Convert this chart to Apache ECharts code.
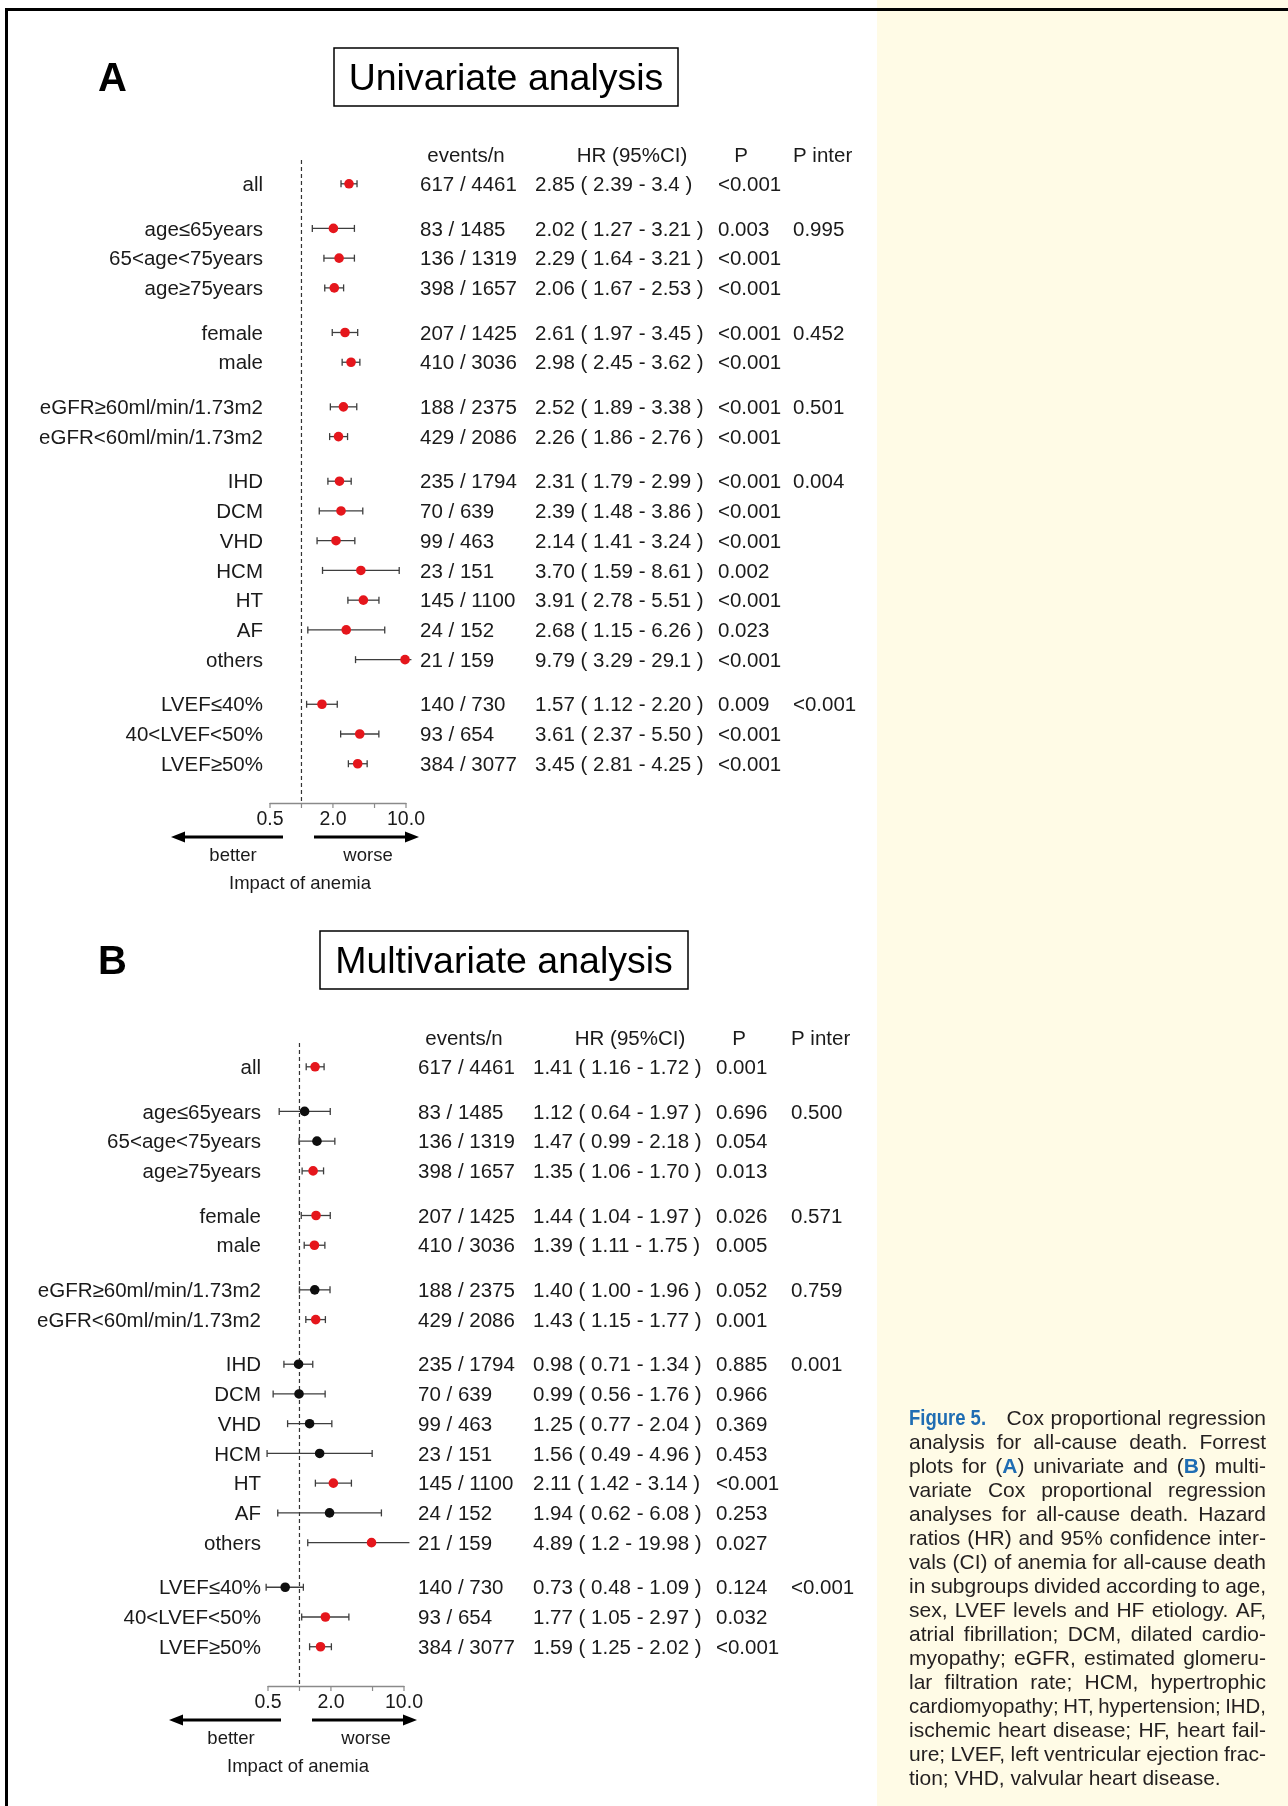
<!DOCTYPE html>
<html>
<head>
<meta charset="utf-8">
<title>Cox proportional regression analysis for all-cause death</title>
<script src="https://cdn.jsdelivr.net/npm/echarts@6/dist/echarts.min.js"></script>
<style>
  html, body { margin: 0; padding: 0; background: #ffffff; }
  #chart { width: 1288px; height: 1806px; }
</style>
</head>
<body>
<div id="chart"></div>
<script>
// ---- Subgroups (shared by both analyses) ----
const subgroups = [
  'all',
  'age≤65years', '65<age<75years', 'age≥75years',
  'female', 'male',
  'eGFR≥60ml/min/1.73m2', 'eGFR<60ml/min/1.73m2',
  'IHD', 'DCM', 'VHD', 'HCM', 'HT', 'AF', 'others',
  'LVEF≤40%', '40<LVEF<50%', 'LVEF≥50%'
];
const events = [617, 83, 136, 398, 207, 410, 188, 429, 235, 70, 99, 23, 145, 24, 21, 140, 93, 384];
const totals = [4461, 1485, 1319, 1657, 1425, 3036, 2375, 2086, 1794, 639, 463, 151, 1100, 152, 159, 730, 654, 3077];

// ---- Univariate hazard ratios (95% CI) ----
const uniHR = ['2.85', '2.02', '2.29', '2.06', '2.61', '2.98', '2.52', '2.26', '2.31', '2.39', '2.14', '3.70', '3.91', '2.68', '9.79', '1.57', '3.61', '3.45'];
const uniLo = ['2.39', '1.27', '1.64', '1.67', '1.97', '2.45', '1.89', '1.86', '1.79', '1.48', '1.41', '1.59', '2.78', '1.15', '3.29', '1.12', '2.37', '2.81'];
const uniHi = ['3.4', '3.21', '3.21', '2.53', '3.45', '3.62', '3.38', '2.76', '2.99', '3.86', '3.24', '8.61', '5.51', '6.26', '29.1', '2.20', '5.50', '4.25'];
const uniP = ['<0.001', '0.003', '<0.001', '<0.001', '<0.001', '<0.001', '<0.001', '<0.001', '<0.001', '<0.001', '<0.001', '0.002', '<0.001', '0.023', '<0.001', '0.009', '<0.001', '<0.001'];
const uniPInter = ['', '0.995', '', '', '0.452', '', '0.501', '', '0.004', '', '', '', '', '', '', '<0.001', '', ''];

// ---- Multivariate hazard ratios (95% CI) ----
const multiHR = ['1.41', '1.12', '1.47', '1.35', '1.44', '1.39', '1.40', '1.43', '0.98', '0.99', '1.25', '1.56', '2.11', '1.94', '4.89', '0.73', '1.77', '1.59'];
const multiLo = ['1.16', '0.64', '0.99', '1.06', '1.04', '1.11', '1.00', '1.15', '0.71', '0.56', '0.77', '0.49', '1.42', '0.62', '1.2', '0.48', '1.05', '1.25'];
const multiHi = ['1.72', '1.97', '2.18', '1.70', '1.97', '1.75', '1.96', '1.77', '1.34', '1.76', '2.04', '4.96', '3.14', '6.08', '19.98', '1.09', '2.97', '2.02'];
const multiP = ['0.001', '0.696', '0.054', '0.013', '0.026', '0.005', '0.052', '0.001', '0.885', '0.966', '0.369', '0.453', '<0.001', '0.253', '0.027', '0.124', '0.032', '<0.001'];
const multiPInter = ['', '0.500', '', '', '0.571', '', '0.759', '', '0.001', '', '', '', '', '', '', '<0.001', '', ''];

// ---- Hazard-ratio axis ----
const tickValues = [0.5, 1, 2, 5, 10];
const tickLabels = ['0.5', '', '2.0', '', '10.0'];

// ---- Column headers ----
const headers = ['events/n', 'HR (95%CI)', 'P', 'P inter'];

// ---- Figure legend ----
const captionLines = [
  '{fig|Figure 5.} Cox proportional regression',
  'analysis for all-cause death. Forrest',
  'plots for ({b|A}) univariate and ({b|B}) multi-',
  'variate Cox proportional regression',
  'analyses for all-cause death. Hazard',
  'ratios (HR) and 95% confidence inter-',
  'vals (CI) of anemia for all-cause death',
  'in subgroups divided according to age,',
  'sex, LVEF levels and HF etiology. AF,',
  'atrial fibrillation; DCM, dilated cardio-',
  'myopathy; eGFR, estimated glomeru-',
  'lar filtration rate; HCM, hypertrophic',
  'cardiomyopathy; HT, hypertension; IHD,',
  'ischemic heart disease; HF, heart fail-',
  'ure; LVEF, left ventricular ejection frac-',
  'tion; VHD, valvular heart disease.'
];

// ---------------------------------------------------------------
const FAMILY = "'Liberation Sans', Arial, Helvetica, sans-serif";
const TXT = '#1a1a1a';
const RED = '#e5161c';
const DARK = '#0e0e0e';
const WHISKER = '#3e3e3e';
const ROW_FONT = '20.5px ' + FAMILY;

// Vertical position of each row: a new subgroup block (where an interaction
// P is reported) starts half a row further down.
const rowPos = [];
subgroups.forEach((s, i) => {
  if (i === 0) rowPos.push(0);
  else rowPos.push(rowPos[i - 1] + (uniPInter[i] !== '' ? 1.5 : 1));
});
const lastPos = rowPos[rowPos.length - 1];
const Y_MIN = -0.8;
const Y_MAX = lastPos + 1.32;
// whiskers are cut at the edge of the plotting region
const CLIP_MIN = 0.444;
const CLIP_MAX = 11.27;

function isSignificant(p) {
  const s = p.trim();
  return s.charAt(0) === '<' || parseFloat(s) < 0.05;
}

const panels = [
  { letter: 'A', title: 'Univariate analysis', hr: uniHR, lo: uniLo, hi: uniHi, p: uniP, pi: uniPInter,
    dx: 0, dy: 0, box: { x: 334, y: 48, w: 344, h: 58 } },
  { letter: 'B', title: 'Multivariate analysis', hr: multiHR, lo: multiLo, hi: multiHi, p: multiP, pi: multiPInter,
    dx: -2, dy: 883, box: { x: 320, y: 931, w: 368, h: 58 } }
];

const grids = [], xAxes = [], yAxes = [], series = [], graphics = [];

// page background pieces
graphics.push({ type: 'rect', z: 0, shape: { x: 877, y: 0, width: 411, height: 1806 }, style: { fill: '#fffbe6' } });
graphics.push({ type: 'rect', z: 1, shape: { x: 5, y: 8, width: 1283, height: 3 }, style: { fill: '#000' } });
graphics.push({ type: 'rect', z: 1, shape: { x: 5, y: 8, width: 3, height: 1798 }, style: { fill: '#000' } });

function txt(text, x, y, font, align, color) {
  return { type: 'text', z: 5, style: { text: text, x: x, y: y, font: font, fill: color || TXT,
    textAlign: align || 'left', textVerticalAlign: 'middle' } };
}

panels.forEach((P, k) => {
  const dx = P.dx, dy = P.dy;

  grids.push({ left: 270 + dx, top: 160 + dy, width: 136, height: 643, outerBoundsMode: 'none' });
  xAxes.push({
    type: 'log', logBase: 2, gridIndex: k, min: 0.5, max: 10, position: 'bottom',
    axisLine: { show: true, onZero: false, lineStyle: { color: '#8a8a8a', width: 1.3 } },
    axisTick: { show: false }, axisLabel: { show: false }, splitLine: { show: false }
  });
  yAxes.push({ type: 'value', gridIndex: k, inverse: true, min: Y_MIN, max: Y_MAX, show: false });

  // reference line at HR = 1
  series.push({
    type: 'custom', xAxisIndex: k, yAxisIndex: k, clip: false, silent: true, z: 3,
    data: [[1, Y_MIN, Y_MAX]],
    encode: { x: 0, y: 1 },
    renderItem: function (params, api) {
      const a = api.coord([api.value(0), api.value(1)]);
      const b = api.coord([api.value(0), api.value(2)]);
      return { type: 'line', shape: { x1: a[0], y1: a[1], x2: b[0], y2: b[1] },
        style: { stroke: '#333', lineWidth: 1.2, lineDash: [4, 3] } };
    }
  });

  // axis ticks and tick labels
  series.push({
    type: 'custom', xAxisIndex: k, yAxisIndex: k, clip: false, silent: true, z: 3,
    data: tickValues.map((v, i) => [v, Y_MAX, i]),
    encode: { x: 0, y: 1 },
    renderItem: function (params, api) {
      const i = api.value(2);
      const pt = api.coord([api.value(0), api.value(1)]);
      return { type: 'group', children: [
        { type: 'line', shape: { x1: pt[0], y1: pt[1], x2: pt[0], y2: pt[1] + 5 },
          style: { stroke: '#8a8a8a', lineWidth: 1.2 } },
        { type: 'text', style: { text: tickLabels[i], x: pt[0], y: pt[1] + 17,
          font: '19.5px ' + FAMILY, fill: TXT, textAlign: 'center', textVerticalAlign: 'middle' } }
      ] };
    }
  });

  // subgroup rows: label, whisker, point and table columns
  series.push({
    type: 'custom', xAxisIndex: k, yAxisIndex: k, clip: false, silent: true, z: 4,
    data: subgroups.map((s, i) => [Number(P.hr[i]), rowPos[i], i]),
    encode: { x: 0, y: 1 },
    renderItem: function (params, api) {
      const i = api.value(2);
      const pos = api.value(1);
      const hr = Number(P.hr[i]), lo = Number(P.lo[i]), hi = Number(P.hi[i]);
      const y = api.coord([1, pos])[1];
      const xc = api.coord([hr, pos])[0];
      const xLo = api.coord([Math.max(lo, CLIP_MIN), pos])[0];
      const xHi = api.coord([Math.min(hi, CLIP_MAX), pos])[0];
      const ty = y + 1.5;
      const children = [
        { type: 'line', shape: { x1: xLo, y1: y, x2: xHi, y2: y }, style: { stroke: WHISKER, lineWidth: 1.3 } }
      ];
      if (lo >= CLIP_MIN) children.push({ type: 'line', shape: { x1: xLo, y1: y - 3.5, x2: xLo, y2: y + 3.5 }, style: { stroke: WHISKER, lineWidth: 1.3 } });
      if (hi <= CLIP_MAX) children.push({ type: 'line', shape: { x1: xHi, y1: y - 3.5, x2: xHi, y2: y + 3.5 }, style: { stroke: WHISKER, lineWidth: 1.3 } });
      children.push({ type: 'circle', shape: { cx: xc, cy: y, r: 4.8 },
        style: { fill: isSignificant(P.p[i]) ? RED : DARK } });
      const cols = [
        [subgroups[i], 263 + dx, 'right'],
        [events[i] + ' / ' + totals[i], 420 + dx, 'left'],
        [P.hr[i] + ' ( ' + P.lo[i] + ' - ' + P.hi[i] + ' )', 535 + dx, 'left'],
        [P.p[i], 718 + dx, 'left'],
        [P.pi[i], 793 + dx, 'left']
      ];
      cols.forEach(c => {
        if (c[0] === '') return;
        children.push({ type: 'text', style: { text: c[0], x: c[1], y: ty, font: ROW_FONT, fill: TXT,
          textAlign: c[2], textVerticalAlign: 'middle' } });
      });
      return { type: 'group', children: children };
    }
  });

  // panel letter and boxed title
  graphics.push(txt(P.letter, 98, 80 + dy, 'bold 40px ' + FAMILY, 'left', '#000'));
  graphics.push({ type: 'rect', z: 5, shape: { x: P.box.x, y: P.box.y, width: P.box.w, height: P.box.h },
    style: { fill: 'none', stroke: '#000', lineWidth: 1.5 } });
  graphics.push(txt(P.title, P.box.x + P.box.w / 2, P.box.y + P.box.h / 2 + 2.5, '37.5px ' + FAMILY, 'center', '#000'));

  // column headers
  const hy = 156 + dy;
  graphics.push(txt(headers[0], 466 + dx, hy, ROW_FONT, 'center'));
  graphics.push(txt(headers[1], 632 + dx, hy, ROW_FONT, 'center'));
  graphics.push(txt(headers[2], 741 + dx, hy, ROW_FONT, 'center'));
  graphics.push(txt(headers[3], 793 + dx, hy, ROW_FONT, 'left'));

  // direction arrows and axis caption
  const ay = 837 + dy;
  graphics.push({ type: 'line', z: 5, shape: { x1: 283 + dx, y1: ay, x2: 182 + dx, y2: ay }, style: { stroke: '#000', lineWidth: 3 } });
  graphics.push({ type: 'polygon', z: 5, shape: { points: [[171 + dx, ay], [185 + dx, ay - 5.5], [185 + dx, ay + 5.5]] }, style: { fill: '#000' } });
  graphics.push({ type: 'line', z: 5, shape: { x1: 314 + dx, y1: ay, x2: 408 + dx, y2: ay }, style: { stroke: '#000', lineWidth: 3 } });
  graphics.push({ type: 'polygon', z: 5, shape: { points: [[419 + dx, ay], [405 + dx, ay - 5.5], [405 + dx, ay + 5.5]] }, style: { fill: '#000' } });
  graphics.push(txt('better', 233 + dx, 856 + dy, '18.5px ' + FAMILY, 'center'));
  graphics.push(txt('worse', 368 + dx, 856 + dy, '18.5px ' + FAMILY, 'center'));
  graphics.push(txt('Impact of anemia', 300 + dx, 884 + dy, '18.5px ' + FAMILY, 'center'));
});

// ---- justified figure legend ----
const capStyles = {
  n: { font: '21px ' + FAMILY, fill: '#231f20', sx: 1 },
  fig: { font: 'bold 22px ' + FAMILY, fill: '#1f6db3', sx: 0.84 },
  b: { font: 'bold 21px ' + FAMILY, fill: '#1f6db3', sx: 1 }
};
const FIG_GAP = 14;
const MIN_GAP = 4.5;
const CAP_X0 = 909, CAP_X1 = 1266, CAP_Y0 = 1419, CAP_LH = 24;
const measureCtx = document.createElement('canvas').getContext('2d');
function runWidth(t, st) { measureCtx.font = st.font; return measureCtx.measureText(t).width * st.sx; }
function parseWord(w) {
  const runs = [];
  const re = /\{(\w+)\|([^}]*)\}|([^{]+)/g;
  let m;
  while ((m = re.exec(w))) {
    if (m[1]) runs.push({ t: m[2], s: m[1] });
    else runs.push({ t: m[3], s: 'n' });
  }
  return runs;
}
captionLines.forEach((line, li) => {
  const words = line.match(/(?:\{\w+\|[^}]*\}|[^\s{])+/g).map(parseWord);
  const widths = words.map(runs => runs.reduce((a, r) => a + runWidth(r.t, capStyles[r.s]), 0));
  const extra = words.map(runs => runs[0].s === 'fig' ? FIG_GAP : 0);
  const wordSum = widths.reduce((a, b) => a + b, 0);
  const extraSum = extra.reduce((a, b) => a + b, 0);
  const nGaps = words.length - 1;
  const avail = CAP_X1 - CAP_X0 - extraSum;
  const isLast = li === captionLines.length - 1;
  let scale = 1, gap;
  if (isLast || nGaps < 1) {
    gap = runWidth(' ', capStyles.n);
  } else if (wordSum + nGaps * MIN_GAP > avail) {
    // squeeze an over-long line horizontally
    scale = (avail - nGaps * MIN_GAP) / wordSum;
    gap = MIN_GAP;
  } else {
    gap = (avail - wordSum) / nGaps;
  }
  const y = CAP_Y0 + li * CAP_LH;
  let x = CAP_X0;
  words.forEach((runs, wi) => {
    runs.forEach(r => {
      const st = capStyles[r.s];
      graphics.push({ type: 'text', z: 5, x: x, y: y, scaleX: st.sx * scale, scaleY: 1,
        style: { text: r.t, x: 0, y: 0, font: st.font, fill: st.fill, textAlign: 'left', textVerticalAlign: 'middle' } });
      x += runWidth(r.t, st) * scale;
    });
    x += extra[wi] + gap;
  });
});

const chart = echarts.init(document.getElementById('chart'), null, { renderer: 'canvas', width: 1288, height: 1806 });
chart.setOption({
  animation: false,
  backgroundColor: '#ffffff',
  grid: grids,
  xAxis: xAxes,
  yAxis: yAxes,
  series: series,
  graphic: { elements: graphics }
});
</script>
</body>
</html>
